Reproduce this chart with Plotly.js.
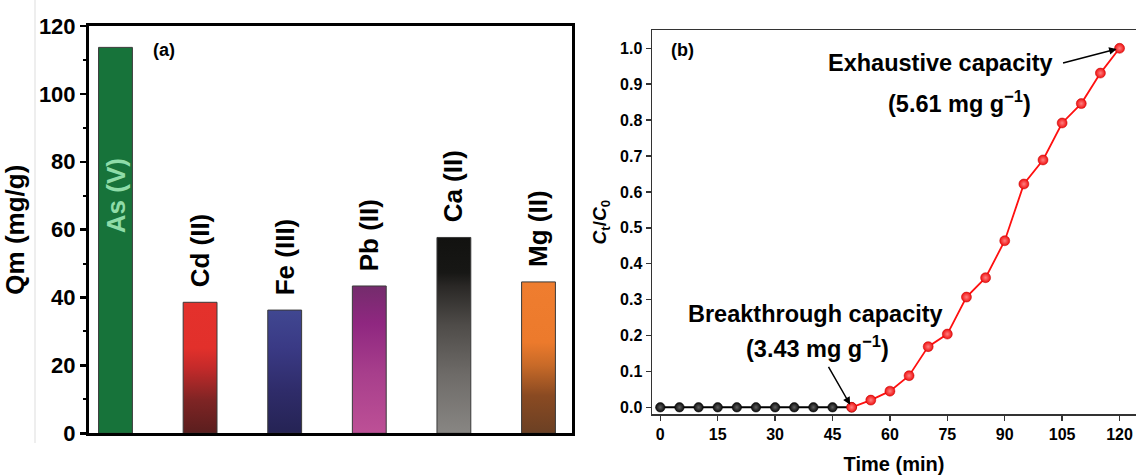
<!DOCTYPE html>
<html>
<head>
<meta charset="utf-8">
<script src="https://cdn.plot.ly/plotly-3.0.1.min.js"></script>
<style>html,body{margin:0;padding:0;background:#fff;}#chart{width:1136px;height:475px;}</style>
</head>
<body>
<div id="chart"></div>
<script>
// ---- data ----
const categories = ['As (V)', 'Cd (II)', 'Fe (III)', 'Pb (II)', 'Ca (II)', 'Mg (II)'];
const qmValues = [113.7, 38.6, 36.3, 43.4, 57.7, 44.6];
const timeBefore = [0, 5, 10, 15, 20, 25, 30, 35, 40, 45];
const ratioBefore = [0, 0, 0, 0, 0, 0, 0, 0, 0, 0];
const timeAfter = [50, 55, 60, 65, 70, 75, 80, 85, 90, 95, 100, 105, 110, 115, 120];
const ratioAfter = [0, 0.020, 0.045, 0.088, 0.169, 0.204, 0.307, 0.361, 0.464, 0.622, 0.689, 0.792, 0.846, 0.931, 1.0];
const timeTicks = [0, 15, 30, 45, 60, 75, 90, 105, 120];
const qmTicks = [0, 20, 40, 60, 80, 100, 120];

// ---- styles ----
const barScales = [
  null,
  [[0, '#5a1e1e'], [0.25, '#7e2424'], [0.5, '#c42a2a'], [0.65, '#e2302b'], [1, '#e4312c']],
  [[0, '#252354'], [0.35, '#2f2c6a'], [0.7, '#3a3a85'], [1, '#404791']],
  [[0, '#bd5096'], [0.4, '#a83f8c'], [0.75, '#8f2780'], [1, '#742c6c']],
  [[0, '#888683'], [0.3, '#6e6b68'], [0.55, '#4f4c49'], [0.75, '#2a2826'], [0.82, '#171715'], [1, '#121210']],
  [[0, '#6b4024'], [0.25, '#8a4a22'], [0.45, '#c86a28'], [0.6, '#ec7a2c'], [1, '#ef7d2f']]
];
const asColor = '#17733a';
const halfW = 0.2;
const FONT = 'Liberation Sans, Arial, sans-serif';

const traces = [];
categories.forEach((c, i) => {
  const v = qmValues[i];
  const t = {
    type: 'scatter', mode: 'lines', xaxis: 'x', yaxis: 'y',
    x: [i - halfW, i + halfW, i + halfW, i - halfW, i - halfW],
    y: [0, 0, v, v, 0],
    fill: 'toself',
    line: {color: '#3a3a3a', width: 1},
    name: c, hoverinfo: 'name', showlegend: false
  };
  if (barScales[i]) {
    t.fillgradient = {type: 'vertical', colorscale: barScales[i]};
  } else {
    t.fillcolor = asColor;
  }
  traces.push(t);
});

// breakthrough curve
traces.push({
  type: 'scatter', mode: 'lines+markers', xaxis: 'x2', yaxis: 'y2',
  x: timeBefore.concat([timeAfter[0]]), y: ratioBefore.concat([ratioAfter[0]]),
  line: {color: '#000', width: 2},
  marker: {size: 9.5, color: '#0a0a0a', line: {color: '#000', width: 0.5}, gradient: {type: 'radial', color: '#606060'}},
  showlegend: false
});
traces.push({
  type: 'scatter', mode: 'lines+markers', xaxis: 'x2', yaxis: 'y2',
  x: timeAfter, y: ratioAfter,
  line: {color: '#ff1010', width: 1.8},
  marker: {size: 10, color: '#f01010', line: {color: '#c00000', width: 0.5}, gradient: {type: 'radial', color: '#ff8080'}},
  showlegend: false
});

const px = v => v / 1136;
const py = v => (475 - v) / 475;
const bold = {family: FONT, color: '#000', weight: 'bold'};

const annotations = [];
categories.forEach((c, i) => {
  if (i === 0) {
    annotations.push({xref: 'x', yref: 'y', x: i, y: 70, text: '<b>' + c + '</b>', textangle: -90,
      showarrow: false, xanchor: 'center', yanchor: 'middle', font: Object.assign({}, bold, {size: 26, color: '#8fdca8'})});
  } else {
    annotations.push({xref: 'x', yref: 'y', x: i, y: qmValues[i], text: '<b>' + c + '</b>', textangle: -90,
      showarrow: false, xanchor: 'center', yanchor: 'bottom', yshift: 13, font: Object.assign({}, bold, {size: 26})});
  }
});
annotations.push({xref: 'paper', yref: 'paper', x: px(164), y: py(50), text: '<b>(a)</b>', showarrow: false,
  xanchor: 'center', yanchor: 'middle', font: Object.assign({}, bold, {size: 18})});
annotations.push({xref: 'paper', yref: 'paper', x: px(682), y: py(50), text: '<b>(b)</b>', showarrow: false,
  xanchor: 'center', yanchor: 'middle', font: Object.assign({}, bold, {size: 18})});
annotations.push({xref: 'paper', yref: 'paper', x: px(940), y: py(63), text: '<b>Exhaustive capacity</b>', showarrow: false,
  xanchor: 'center', yanchor: 'middle', font: Object.assign({}, bold, {size: 23.5})});
annotations.push({xref: 'paper', yref: 'paper', x: px(959), y: py(102), text: '<b>(5.61 mg g<sup>−1</sup>)</b>', showarrow: false,
  xanchor: 'center', yanchor: 'middle', font: Object.assign({}, bold, {size: 23.5})});
annotations.push({xref: 'paper', yref: 'paper', x: px(815.5), y: py(314), text: '<b>Breakthrough capacity</b>', showarrow: false,
  xanchor: 'center', yanchor: 'middle', font: Object.assign({}, bold, {size: 23.5})});
annotations.push({xref: 'paper', yref: 'paper', x: px(817), y: py(347), text: '<b>(3.43 mg g<sup>−1</sup>)</b>', showarrow: false,
  xanchor: 'center', yanchor: 'middle', font: Object.assign({}, bold, {size: 23.5})});
// arrows
annotations.push({xref: 'x2', yref: 'y2', x: timeAfter[timeAfter.length - 1], y: ratioAfter[ratioAfter.length - 1], text: '',
  showarrow: true, ax: -58, ay: 15, arrowhead: 2, arrowsize: 1, arrowwidth: 1.5, arrowcolor: '#000', standoff: 3});
annotations.push({xref: 'x2', yref: 'y2', x: timeAfter[0], y: ratioAfter[0], text: '',
  showarrow: true, ax: -24, ay: -42, arrowhead: 2, arrowsize: 1, arrowwidth: 1.5, arrowcolor: '#000', standoff: 3});

const layout = {
  width: 1136, height: 475,
  margin: {l: 0, r: 0, t: 0, b: 0},
  paper_bgcolor: '#ffffff', plot_bgcolor: '#ffffff',
  showlegend: false,
  font: {family: FONT, color: '#000'},
  xaxis: {
    domain: [px(89), px(572)], range: [-0.313, 5.396], anchor: 'y',
    showgrid: false, zeroline: false, showticklabels: false, ticks: '',
    showline: true, linecolor: '#000', linewidth: 3, mirror: true
  },
  yaxis: {
    domain: [py(433.3), py(26)], range: [0, 120], anchor: 'x',
    tickvals: qmTicks, ticktext: qmTicks.map(String),
    showgrid: false, zeroline: false,
    showline: true, linecolor: '#000', linewidth: 3, mirror: true,
    ticks: 'outside', ticklen: 6, tickwidth: 2.5, tickcolor: '#000',
    minor: {dtick: 10, ticks: 'outside', ticklen: 3, tickwidth: 2, tickcolor: '#000'},
    tickfont: Object.assign({}, bold, {size: 22}),
    title: {text: '<b>Qm (mg/g)</b>', font: Object.assign({}, bold, {size: 26}), standoff: 8}
  },
  xaxis2: {
    domain: [px(652), 1], range: [-2.17, 124.3], anchor: 'y2',
    tickvals: timeTicks, ticktext: timeTicks.map(String),
    showgrid: false, zeroline: false,
    showline: true, linecolor: '#333', linewidth: 1.5, mirror: true,
    ticks: 'outside', ticklen: 5, tickwidth: 1.5, tickcolor: '#333',
    tickfont: Object.assign({}, bold, {size: 16}),
    title: {text: '<b>Time (min)</b>', font: Object.assign({}, bold, {size: 20}), standoff: 16}
  },
  yaxis2: {
    domain: [py(414.3), py(30)], range: [-0.0195, 1.051], anchor: 'x2',
    dtick: 0.1, tick0: 0, tickformat: '.1f',
    showgrid: false, zeroline: false,
    showline: true, linecolor: '#333', linewidth: 1.5, mirror: false,
    ticks: 'outside', ticklen: 5, tickwidth: 1.5, tickcolor: '#333',
    tickfont: Object.assign({}, bold, {size: 16}),
    title: {text: '<b><i>C</i><sub>t</sub>/<i>C</i><sub>0</sub></b>', font: Object.assign({}, bold, {size: 19}), standoff: 8}
  },
  shapes: [
    {type: 'line', xref: 'paper', yref: 'paper', x0: px(35), x1: px(35), y0: py(443), y1: 1,
      line: {color: '#dddddd', width: 1}}
  ],
  annotations: annotations
};

Plotly.newPlot('chart', traces, layout, {displayModeBar: false, staticPlot: true});
</script>
</body>
</html>
